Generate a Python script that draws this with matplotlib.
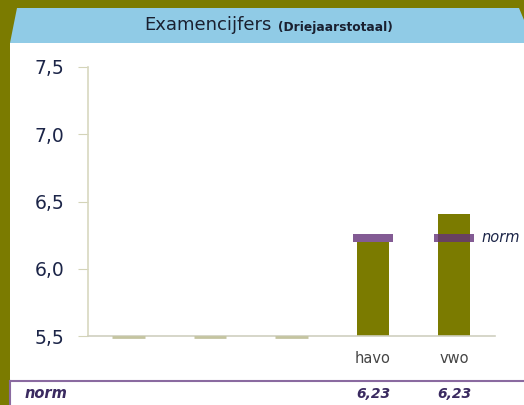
import numpy as np
import matplotlib.pyplot as plt
import matplotlib.transforms as mtransforms
from matplotlib.patches import Polygon, Rectangle

# data
categories = ['', '', '', 'havo', 'vwo']
scores = [np.nan, np.nan, np.nan, 6.20, 6.41]
norm = [np.nan, np.nan, np.nan, 6.23, 6.23]
norm_labels = ['', '', '', '6,23', '6,23']
yticks = [5.5, 6.0, 6.5, 7.0, 7.5]

olive = '#7b7b00'
stub = '#c4c4a0'
purple = '#64327a'
navy = '#1c2548'

W, H = 524, 405
fig = plt.figure(figsize=(W / 100, H / 100), dpi=100)
fig.patch.set_facecolor(olive)

def fx(px):
    return px / W

def fy(py):
    return 1 - py / H

# white panel and blue header
fig.patches.append(Rectangle((fx(10), 0), 1 - fx(10), fy(43), transform=fig.transFigure,
                             facecolor='white', edgecolor='none', zorder=-2))
fig.patches.append(Polygon([(fx(10), fy(43)), (fx(17), fy(8)), (fx(519), fy(8)),
                            (1, fy(20)), (1, fy(43))], closed=True,
                           transform=fig.transFigure, facecolor='#90cbe6', edgecolor='none',
                           zorder=-2))
fig.text(fx(272), fy(25), 'Examencijfers', ha='right', va='center', fontsize=13, color='#1a2030')
fig.text(fx(278), fy(27), '(Driejaarstotaal)', ha='left', va='center', fontsize=8.8,
         weight='bold', color='#1a2030')

# bottom table row
fig.lines.append(plt.Line2D([fx(10), 1], [fy(381), fy(381)], transform=fig.transFigure,
                            color='#8a6aa0', lw=1.5))
fig.lines.append(plt.Line2D([fx(10), fx(10)], [fy(381), 0], transform=fig.transFigure,
                            color='#8a6aa0', lw=1.5))
fig.text(fx(25), fy(394), 'norm', ha='left', va='center', fontsize=10.5, style='italic',
         weight='bold', color='#3a2a60')

ax = fig.add_axes([fx(88), fy(336), fx(495) - fx(88), fy(67) - fy(336)])
ax.set_facecolor('none')
x = np.arange(len(categories))
ax.set_xlim(-0.5, 4.5)
ax.set_ylim(5.5, 7.5)

for i in range(len(categories)):
    if np.isnan(scores[i]):
        ax.plot([i - 0.2, i + 0.2], [5.495, 5.495], color=stub, lw=2, solid_capstyle='butt',
                clip_on=False, zorder=3)
ax.bar(x, np.array(scores) - 5.5, bottom=5.5, width=0.39, color=olive, zorder=2)
ax.bar(x, 0.06, bottom=np.array(norm) - 0.03, width=0.49, color=purple, alpha=0.8, zorder=4)
ax.text(4.33, 6.23, 'norm', ha='left', va='center', fontsize=10.5, style='italic',
        color=navy, clip_on=False)

trans = mtransforms.blended_transform_factory(ax.transData, fig.transFigure)
for i, lab in enumerate(norm_labels):
    ax.text(i, fy(394), lab, transform=trans, ha='center', va='center', clip_on=False,
            fontsize=10, style='italic', weight='bold', color='#3a2a60')

ax.set_yticks(yticks)
ax.set_yticklabels([f'{v:.1f}'.replace('.', ',') for v in yticks], fontsize=13.5, color=navy)
ax.set_xticks(x)
ax.set_xticklabels(categories, fontsize=10.5, color='#454545')
ax.tick_params(axis='x', length=0, pad=11)
ax.tick_params(axis='y', length=7, color='#d4d4b8', pad=10)
for s in ['top', 'right']:
    ax.spines[s].set_visible(False)
ax.spines['left'].set_color('#d8d8c0')
ax.spines['bottom'].set_color('#d0d0c0')
ax.spines['left'].set_linewidth(1.2)
ax.spines['bottom'].set_linewidth(1.2)

fig.savefig('out.png', dpi=100, facecolor=olive)
